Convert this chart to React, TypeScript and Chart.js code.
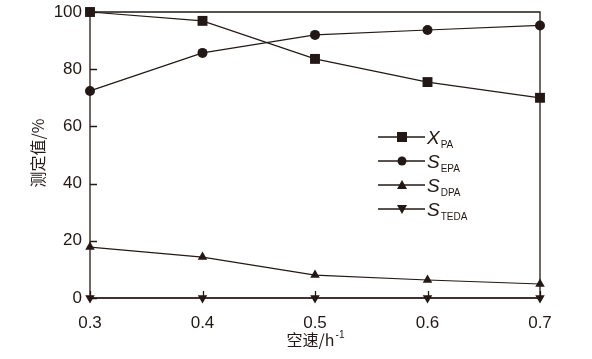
import React, { useEffect, useRef } from "react";
import { Chart, registerables } from "chart.js";

Chart.register(...registerables);

const categories = ["0.3", "0.4", "0.5", "0.6", "0.7"];
const xValues = [0.3, 0.4, 0.5, 0.6, 0.7];
const xPA = [100, 96.9, 83.6, 75.5, 70.0];
const sEPA = [72.4, 85.7, 92.0, 93.7, 95.3];
const sDPA = [17.8, 14.3, 8.0, 6.3, 4.9];
const sTEDA = [0, 0, 0, 0, 0];
const yTicks = [0, 20, 40, 60, 80, 100];
const legendMain = ["X", "S", "S", "S"];
const legendSub = ["PA", "EPA", "DPA", "TEDA"];
const yTitle = "测定值/%";
const xTitleMain = "空速/h";
const xTitleSup = "-1";

const INK = "#231815";

function drawMarker(ctx: CanvasRenderingContext2D, style: string, x: number, y: number) {
  ctx.fillStyle = INK;
  ctx.beginPath();
  if (style === "rect") {
    ctx.rect(x - 5, y - 5, 10, 10);
  } else if (style === "circle") {
    ctx.arc(x, y, 4.5, 0, Math.PI * 2);
  } else if (style === "up") {
    ctx.moveTo(x, y - 5);
    ctx.lineTo(x + 5, y + 4);
    ctx.lineTo(x - 5, y + 4);
    ctx.closePath();
  } else {
    ctx.moveTo(x, y + 5);
    ctx.lineTo(x + 5, y - 4);
    ctx.lineTo(x - 5, y - 4);
    ctx.closePath();
  }
  ctx.fill();
}

const framePlugin = {
  id: "frameAndLegend",
  afterDraw(chart: any) {
    const ctx: CanvasRenderingContext2D = chart.ctx;
    const { left, right, top, bottom } = chart.chartArea;
    const xs = chart.scales.x;
    const ys = chart.scales.y;
    ctx.save();
    ctx.strokeStyle = INK;
    ctx.lineWidth = 1.3;
    ctx.beginPath();
    ctx.rect(left, top, right - left, bottom - top);
    ctx.stroke();
    // inward ticks
    ctx.beginPath();
    for (const t of yTicks) {
      const py = Math.round(ys.getPixelForValue(t)) + 0.5;
      ctx.moveTo(left, py);
      ctx.lineTo(left + 7, py);
    }
    for (const v of xValues) {
      const px = Math.round(xs.getPixelForValue(v)) + 0.5;
      ctx.moveTo(px, bottom);
      ctx.lineTo(px, bottom - 7);
    }
    ctx.stroke();

    // legend
    const styles = ["rect", "circle", "up", "down"];
    for (let i = 0; i < 4; i++) {
      const y = 137 + i * 24;
      ctx.beginPath();
      ctx.lineWidth = 1.3;
      ctx.moveTo(378, y);
      ctx.lineTo(425, y);
      ctx.stroke();
      drawMarker(ctx, styles[i], 402, y);
      ctx.fillStyle = INK;
      ctx.textBaseline = "alphabetic";
      ctx.textAlign = "left";
      ctx.font = "italic 19px 'Liberation Sans', Arial, sans-serif";
      ctx.fillText(legendMain[i], 427, y + 7);
      const w = ctx.measureText(legendMain[i]).width;
      ctx.font = "10px 'Liberation Sans', Arial, sans-serif";
      ctx.fillText(legendSub[i], 427 + w + 1, y + 11);
    }

    // y title
    ctx.save();
    ctx.translate(38, 153);
    ctx.rotate(-Math.PI / 2);
    ctx.textAlign = "center";
    ctx.textBaseline = "middle";
    ctx.font = "16px 'Noto Sans CJK SC', sans-serif";
    ctx.fillStyle = INK;
    ctx.fillText(yTitle, 0, 0);
    ctx.restore();

    // x title
    ctx.font = "16px 'Noto Sans CJK SC', sans-serif";
    ctx.fillStyle = INK;
    ctx.textBaseline = "alphabetic";
    ctx.textAlign = "left";
    const mw = ctx.measureText(xTitleMain).width;
    ctx.font = "10px 'Liberation Sans', Arial, sans-serif";
    const sw = ctx.measureText(xTitleSup).width;
    const startX = 315 - (mw + sw) / 2;
    ctx.font = "16px 'Noto Sans CJK SC', sans-serif";
    ctx.fillText(xTitleMain, startX, 346);
    ctx.font = "10px 'Liberation Sans', Arial, sans-serif";
    ctx.fillText(xTitleSup, startX + mw + 1, 338);
    ctx.restore();
  },
};

function mk(label: string, data: number[], style: string, rot: number, r: number) {
  return {
    label,
    data: data.map((v, i) => ({ x: xValues[i], y: v })),
    borderColor: INK,
    backgroundColor: INK,
    borderWidth: 1.2,
    pointStyle: style,
    pointRotation: rot,
    pointRadius: r,
    pointHoverRadius: r,
    pointBorderWidth: 0,
    clip: false,
    tension: 0,
  };
}

export default function App() {
  const ref = useRef<HTMLCanvasElement>(null);
  useEffect(() => {
    if (!ref.current) return;
    const chart = new Chart(ref.current, {
      type: "line",
      data: {
        labels: categories,
        datasets: [
          mk("XPA", xPA, "rect", 0, 7),
          mk("SEPA", sEPA, "circle", 0, 5),
          mk("SDPA", sDPA, "triangle", 0, 5.5),
          mk("STEDA", sTEDA, "triangle", 180, 5.5),
        ] as any,
      },
      options: {
        animation: false,
        responsive: false,
        devicePixelRatio: 1,
        layout: { padding: { left: 0, right: 52, top: 12, bottom: 0 } },
        plugins: { legend: { display: false }, tooltip: { enabled: false } },
        scales: {
          x: {
            type: "linear",
            min: 0.3,
            max: 0.7,
            afterFit: (s: any) => { s.height = 61; s.paddingLeft = 0; s.paddingRight = 0; },
            afterBuildTicks: (s: any) => { s.ticks = xValues.map((v) => ({ value: v })); },
            grid: { display: false, drawTicks: false },
            border: { display: false },
            ticks: {
              padding: 15,
              color: INK,
              font: { family: "'Liberation Sans', Arial, sans-serif", size: 17 },
              callback: (v: any) => Number(v).toFixed(1),
              maxRotation: 0,
            },
          },
          y: {
            min: 0,
            max: 100,
            afterFit: (s: any) => { s.width = 90; s.paddingTop = 0; s.paddingBottom = 0; },
            afterBuildTicks: (s: any) => { s.ticks = yTicks.map((v) => ({ value: v })); },
            grid: { display: false, drawTicks: false },
            border: { display: false },
            ticks: {
              padding: 8,
              color: INK,
              font: { family: "'Liberation Sans', Arial, sans-serif", size: 17 },
            },
          },
        },
      },
      plugins: [framePlugin],
    });
    return () => chart.destroy();
  }, []);
  return (
    <div style={{ position: "fixed", left: 0, top: 0, width: 592, height: 359, background: "#fff" }}>
      <canvas ref={ref} width={592} height={359} style={{ width: 592, height: 359 }} />
    </div>
  );
}
